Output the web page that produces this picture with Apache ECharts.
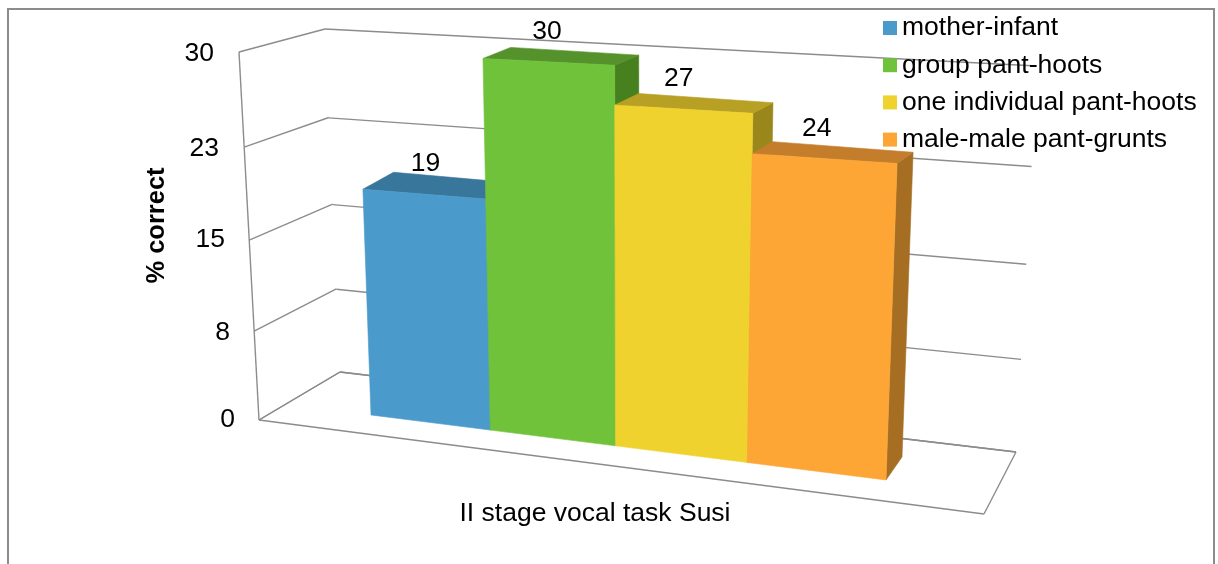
<!DOCTYPE html>
<html>
<head>
<meta charset="utf-8">
<style>html,body{margin:0;padding:0;background:#fff}#chart{width:1218px;height:564px}</style>
<script src="https://cdn.jsdelivr.net/npm/echarts@6/dist/echarts.min.js"></script>
</head>
<body>
<div id="chart"></div>
<script>
// Values of the chart
const stageLabel = 'II stage vocal task Susi';
const seriesNames = ['mother-infant', 'group pant-hoots', 'one individual pant-hoots', 'male-male pant-grunts'];
const seriesValues = [19, 30, 27, 24];
const axisTicks = [0, 7.5, 15, 22.5, 30];
const axisTickLabels = ['0', '8', '15', '23', '30'];

// Face colours of each column
const frontColors = ['#4A9ACB', '#6FC23A', '#F0D22F', '#FDA636'];
const topColors = ['#38769B', '#55922C', '#B8A024', '#C47E2B'];
const sideColors = ['#2F6485', '#47801F', '#9A871C', '#A56E22'];

const FONT = '"Liberation Sans", Arial, sans-serif';
const FONT_SIZE = 26.5;
const LINE = '#8C8C8C';

// Perspective planes of the box: each maps a unit square (u across, t up) onto the page.
function plane(bl, br, tr, tl) {
  const dx1 = br[0] - tr[0], dx2 = tl[0] - tr[0], sx = bl[0] - br[0] + tr[0] - tl[0];
  const dy1 = br[1] - tr[1], dy2 = tl[1] - tr[1], sy = bl[1] - br[1] + tr[1] - tl[1];
  const den = dx1 * dy2 - dx2 * dy1;
  const g = (sx * dy2 - dx2 * sy) / den, h = (dx1 * sy - sx * dy1) / den;
  const a = br[0] - bl[0] + g * br[0], b = tl[0] - bl[0] + h * tl[0];
  const d = br[1] - bl[1] + g * br[1], e = tl[1] - bl[1] + h * tl[1];
  return (u, t) => {
    const w = g * u + h * t + 1;
    return [(a * u + b * t + bl[0]) / w, (d * u + e * t + bl[1]) / w];
  };
}
const leftWall = plane([259, 420], [340, 372], [325, 29], [239, 52]);
const backWall = plane([340, 372], [1016, 452], [1037, 66], [325, 29]);
const columnFront = plane([371, 415], [886, 480], [900, 80], [358, 52]);
const columnBack = plane([401, 390], [902, 457], [916, 72], [389, 40]);
const floorCorners = [[259, 420], [984, 514], [1016, 452], [340, 372]];

const GRID = { left: 235, top: 53, width: 720, height: 365 };

// Height of a value as a fraction of the axis, taken from the value axis' own scale.
function axisFraction(api, value) {
  return (GRID.top + GRID.height - api.coord([0, value])[1]) / GRID.height;
}

function poly(points, fill) {
  return {
    type: 'polygon', shape: { points },
    style: { fill, stroke: fill, lineWidth: 0.6 }, silent: true
  };
}
function segment(a, b) {
  return {
    type: 'line', shape: { x1: a[0], y1: a[1], x2: b[0], y2: b[1] },
    style: { stroke: LINE, lineWidth: 1.4, fill: null }, silent: true
  };
}

function renderColumn(i) {
  return function (params, api) {
    const v = api.value(1);
    const t = axisFraction(api, v);
    const u0 = i / seriesNames.length, u1 = (i + 1) / seriesNames.length;
    const fBL = columnFront(u0, 0), fBR = columnFront(u1, 0);
    const fTL = columnFront(u0, t), fTR = columnFront(u1, t);
    const bBR = columnBack(u1, 0), bTL = columnBack(u0, t), bTR = columnBack(u1, t);
    const mid = columnFront((u0 + u1) / 2, t);
    return {
      type: 'group',
      children: [
        poly([fBR, bBR, bTR, fTR], sideColors[i]),
        poly([fTL, fTR, bTR, bTL], topColors[i]),
        poly([fBL, fBR, fTR, fTL], frontColors[i]),
        {
          type: 'text', silent: true,
          style: {
            x: mid[0] + 2 - 3 * i, y: mid[1] - 30,
            text: String(v), align: 'center', verticalAlign: 'middle',
            fill: '#000', font: FONT_SIZE + 'px ' + FONT
          }
        }
      ]
    };
  };
}

function renderGridLine(params, api) {
  const t = axisFraction(api, api.value(1));
  return {
    type: 'group',
    children: [
      segment(leftWall(0, t), leftWall(1, t)),
      segment(backWall(0, t), backWall(1, t))
    ]
  };
}

// Frame of the box: front vertical edge and the floor outline.
function renderFrame(params, api) {
  const children = [segment(leftWall(0, 0), leftWall(0, axisFraction(api, axisTicks[axisTicks.length - 1])))];
  floorCorners.forEach((c, k) => children.push(segment(c, floorCorners[(k + 1) % floorCorners.length])));
  return { type: 'group', children };
}

// Tick labels step inward along the slanted wall and follow its foreshortening.
const tickInsets = [0, 5, 10, 16, 21];
const tickDrops = [2, 6, 4, 4, 1];
const tickRich = {};
tickInsets.forEach((p, k) => {
  tickRich['t' + k] = {
    padding: [2 * tickDrops[k], p, 0, 0],
    fontSize: FONT_SIZE, fontFamily: FONT, color: '#000'
  };
});

const series = [
  { type: 'custom', name: 'gridlines', coordinateSystem: 'cartesian2d', silent: true, z: 1,
    renderItem: renderGridLine, data: axisTicks.map(v => [0, v]), encode: { x: 0, y: 1 } },
  { type: 'custom', name: 'frame', coordinateSystem: 'cartesian2d', silent: true, z: 1,
    renderItem: renderFrame, data: [[0, 0]], encode: { x: 0, y: 1 } }
];
seriesNames.forEach((name, i) => {
  series.push({
    type: 'custom', name, coordinateSystem: 'cartesian2d', z: 2 + i, silent: true,
    itemStyle: { color: frontColors[i] },
    renderItem: renderColumn(i), data: [[0, seriesValues[i]]], encode: { x: 0, y: 1 }
  });
});

const chart = echarts.init(document.getElementById('chart'), null, { renderer: 'canvas' });
chart.setOption({
  animation: false,
  backgroundColor: '#fff',
  grid: GRID,
  legend: {
    data: seriesNames, orient: 'vertical', left: 883, top: 14.5, padding: 0,
    icon: 'rect', itemWidth: 14, itemHeight: 14, itemGap: 10.2, selectedMode: false,
    textStyle: { fontFamily: FONT, fontSize: FONT_SIZE, color: '#000' }, z: 20
  },
  xAxis: {
    type: 'category', data: [stageLabel],
    axisLine: { show: false }, axisTick: { show: false }, splitLine: { show: false },
    axisLabel: { margin: 82, fontFamily: FONT, fontSize: FONT_SIZE, color: '#000' }
  },
  yAxis: {
    type: 'value', min: 0, max: 30, interval: 7.5,
    axisLine: { show: false }, axisTick: { show: false }, splitLine: { show: false },
    name: '% correct', nameLocation: 'middle', nameRotate: 90, nameGap: 65,
    nameTextStyle: { fontFamily: FONT, fontSize: 25.5, fontWeight: 'bold', color: '#000', padding: [0, 0, 0, 20] },
    axisLabel: {
      margin: 0, align: 'right',
      formatter: (value) => {
        const k = axisTicks.indexOf(value);
        return '{t' + k + '|' + axisTickLabels[k] + '}';
      },
      rich: tickRich
    }
  },
  graphic: [{
    type: 'rect', silent: true, z: -1,
    shape: { x: 8, y: 9, width: 1206, height: 600 },
    style: { fill: null, stroke: LINE, lineWidth: 2 }
  }],
  series
});
</script>
</body>
</html>
